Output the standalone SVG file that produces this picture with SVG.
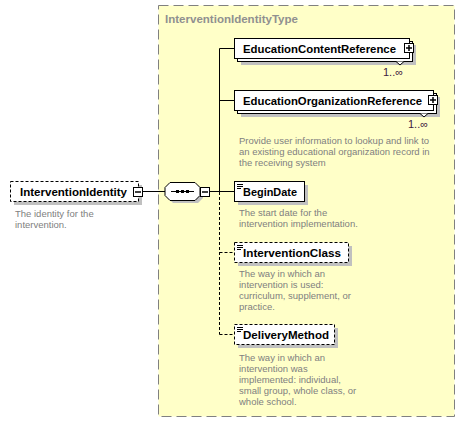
<svg xmlns="http://www.w3.org/2000/svg" width="465" height="423" viewBox="0 0 465 423">
<style>
.box{fill:#fff;stroke:#000;stroke-width:1}
.opt{stroke-dasharray:3,2}
.shadow{fill:#c0c0c0;stroke:none}
.name{font-family:"Liberation Sans",Arial,sans-serif;font-size:11.5px;font-weight:bold;fill:#000}
.desc{font-family:"Liberation Sans",Arial,sans-serif;font-size:9.5px;fill:#808080}
.occ{font-family:"Liberation Sans",Arial,sans-serif;font-size:11px;fill:#402040}
.conn{stroke:#000;stroke-width:1;fill:none}
.dash{stroke-dasharray:3,2}
.pm{fill:#fff;stroke:#000;stroke-width:1}
.icon{stroke:#000;stroke-width:1}
.pl{stroke:#000;stroke-width:1.5}
</style>
<g id="type">
<rect x="158.5" y="5.5" width="296" height="411" fill="#ffffc8" stroke="#808080" stroke-dasharray="10,5"/>
<text x="165" y="23" font-family="Liberation Sans,Arial,sans-serif" font-size="11.5px" font-weight="bold" fill="#909090" textLength="133" lengthAdjust="spacingAndGlyphs">InterventionIdentityType</text>
</g>
<g id="connectors">
<line class="conn" x1="142" y1="191.5" x2="165" y2="191.5"/>
<line class="conn" x1="209" y1="191.5" x2="234" y2="191.5"/>
<line class="conn" x1="219.5" y1="48.5" x2="219.5" y2="191.5"/>
<line class="conn" x1="219.5" y1="48.5" x2="234" y2="48.5"/>
<line class="conn" x1="219.5" y1="100.5" x2="234" y2="100.5"/>
<line class="conn dash" x1="219.5" y1="192" x2="219.5" y2="334.5"/>
<line class="conn dash" x1="219.5" y1="252.5" x2="234" y2="252.5"/>
<line class="conn dash" x1="219.5" y1="334.5" x2="234" y2="334.5"/>
</g>
<g id="InterventionIdentity">
<rect class="shadow" x="14" y="185" width="128" height="20"/>
<rect class="box opt" x="10.5" y="181.5" width="128" height="20"/>
<text class="name" x="20" y="196" textLength="107" lengthAdjust="spacingAndGlyphs">InterventionIdentity</text>
<rect class="pm" x="133.5" y="187.5" width="9" height="9"/>
<line class="pl" x1="135" y1="192" x2="141" y2="192"/>
<text class="desc" x="15" y="217">The identity for the</text>
<text class="desc" x="15" y="228">intervention.</text>
</g>
<g id="sequence">
<polygon class="shadow" points="173,185 198,185 203,190 203,198 198,203 173,203 168,198 168,190"/>
<polygon class="box" points="170,182.5 195,182.5 200,187.5 200,195.5 195,200.5 170,200.5 165,195.5 165,187.5"/>
<line class="icon" x1="171" y1="191.5" x2="194" y2="191.5"/>
<rect x="176" y="190" width="3" height="3" fill="#000"/>
<rect x="181" y="190" width="3" height="3" fill="#000"/>
<rect x="186" y="190" width="3" height="3" fill="#000"/>
<rect class="pm" x="200.5" y="187.5" width="9" height="9"/>
<line class="pl" x1="202" y1="192" x2="208" y2="192"/>
</g>
<g id="EducationContentReference">
<rect class="shadow" x="241" y="45" width="175" height="20"/>
<rect class="box" x="237.5" y="41.5" width="175" height="20"/>
<rect class="box" x="234.5" y="38.5" width="175" height="20"/>
<text class="name" x="243" y="53" textLength="153" lengthAdjust="spacingAndGlyphs">EducationContentReference</text>
<rect class="pm" x="404.5" y="43.5" width="9" height="9"/>
<line class="pl" x1="406" y1="48" x2="412" y2="48"/>
<line class="pl" x1="409" y1="45" x2="409" y2="51"/>
<polyline points="396,61.5 400,65 404,61.5" fill="#fff" stroke="#000"/>
<text class="occ" x="383" y="76">1..∞</text>
</g>
<g id="EducationOrganizationReference">
<rect class="shadow" x="241" y="97" width="199" height="20"/>
<rect class="box" x="237.5" y="93.5" width="199" height="20"/>
<rect class="box" x="234.5" y="90.5" width="199" height="20"/>
<text class="name" x="243" y="105" textLength="179" lengthAdjust="spacingAndGlyphs">EducationOrganizationReference</text>
<rect class="pm" x="428.5" y="95.5" width="9" height="9"/>
<line class="pl" x1="430" y1="100" x2="436" y2="100"/>
<line class="pl" x1="433" y1="97" x2="433" y2="103"/>
<polyline points="420,113.5 424,117 428,113.5" fill="#fff" stroke="#000"/>
<text class="occ" x="408" y="128">1..∞</text>
<text class="desc" x="239" y="144">Provide user information to lookup and link to</text>
<text class="desc" x="239" y="155">an existing educational organization record in</text>
<text class="desc" x="239" y="166">the receiving system</text>
</g>
<g id="BeginDate">
<rect class="shadow" x="238" y="185" width="70" height="20"/>
<rect class="box" x="234.5" y="181.5" width="70" height="20"/>
<line class="icon" x1="237" y1="184.5" x2="243" y2="184.5"/>
<line class="icon" x1="237" y1="186.5" x2="243" y2="186.5"/>
<line class="icon" x1="237" y1="188.5" x2="241" y2="188.5"/>
<text class="name" x="243" y="196" textLength="54" lengthAdjust="spacingAndGlyphs">BeginDate</text>
<text class="desc" x="239" y="216">The start date for the</text>
<text class="desc" x="239" y="227">intervention implementation.</text>
</g>
<g id="InterventionClass">
<rect class="shadow" x="238" y="246" width="114" height="20"/>
<rect class="box opt" x="234.5" y="242.5" width="114" height="20"/>
<line class="icon" x1="237" y1="245.5" x2="243" y2="245.5"/>
<line class="icon" x1="237" y1="247.5" x2="243" y2="247.5"/>
<line class="icon" x1="237" y1="249.5" x2="241" y2="249.5"/>
<text class="name" x="243" y="257" textLength="98" lengthAdjust="spacingAndGlyphs">InterventionClass</text>
<text class="desc" x="239" y="277">The way in which an</text>
<text class="desc" x="239" y="288">intervention is used:</text>
<text class="desc" x="239" y="299">curriculum, supplement, or</text>
<text class="desc" x="239" y="310">practice.</text>
</g>
<g id="DeliveryMethod">
<rect class="shadow" x="238" y="328" width="100" height="20"/>
<rect class="box opt" x="234.5" y="324.5" width="100" height="20"/>
<line class="icon" x1="237" y1="327.5" x2="243" y2="327.5"/>
<line class="icon" x1="237" y1="329.5" x2="243" y2="329.5"/>
<line class="icon" x1="237" y1="331.5" x2="241" y2="331.5"/>
<text class="name" x="243" y="339" textLength="86" lengthAdjust="spacingAndGlyphs">DeliveryMethod</text>
<text class="desc" x="239" y="361">The way in which an</text>
<text class="desc" x="239" y="372">intervention was</text>
<text class="desc" x="239" y="383">implemented: individual,</text>
<text class="desc" x="239" y="394">small group, whole class, or</text>
<text class="desc" x="239" y="405">whole school.</text>
</g>
</svg>
